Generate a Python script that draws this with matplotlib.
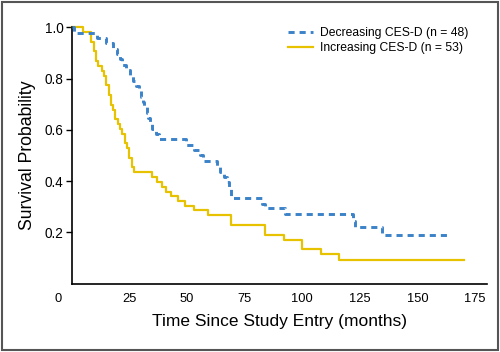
import matplotlib
matplotlib.use("Agg")
import matplotlib.pyplot as plt
import matplotlib.transforms as mtransforms
from matplotlib.patches import Rectangle

# Kaplan-Meier step data (months, survival probability)
dec_time = [0, 1, 11, 15, 18, 19.5, 21, 22, 23.5, 25.5, 26.5, 28, 29, 30, 30.8,
            31.5, 32.5, 33.2, 34, 35, 36.5, 38, 49.5, 53, 55.5, 57, 63, 64.5,
            66, 67.5, 68.2, 69, 82.5, 84, 92.5, 122, 123, 134.5, 164]
dec_surv = [1.0, 0.979, 0.958, 0.938, 0.917, 0.896, 0.875, 0.854, 0.833, 0.813,
            0.792, 0.771, 0.75, 0.729, 0.708, 0.688, 0.667, 0.646, 0.625, 0.604,
            0.583, 0.563, 0.542, 0.521, 0.500, 0.479, 0.458, 0.437, 0.417, 0.396,
            0.375, 0.333, 0.312, 0.294, 0.272, 0.245, 0.219, 0.19, 0.19]

inc_time = [0, 5, 8.5, 9.5, 10.5, 11.5, 13, 14, 15, 16, 17, 18, 19, 20, 21, 22,
            23, 24, 25, 26, 27, 35, 37, 39, 41, 43, 46, 49, 53, 59, 69, 84, 92,
            100, 108, 116, 170]
inc_surv = [1.0, 0.981, 0.943, 0.906, 0.868, 0.849, 0.830, 0.811, 0.774, 0.736,
            0.698, 0.679, 0.642, 0.623, 0.604, 0.585, 0.547, 0.528, 0.491, 0.453,
            0.434, 0.415, 0.396, 0.377, 0.358, 0.340, 0.321, 0.302, 0.288, 0.268,
            0.229, 0.19, 0.171, 0.135, 0.116, 0.093, 0.093]

x_ticks = [0, 25, 50, 75, 100, 125, 150, 175]
y_ticks = [0.2, 0.4, 0.6, 0.8, 1.0]
labels = ["Decreasing CES-D (n = 48)", "Increasing CES-D (n = 53)"]

plt.rcParams["font.family"] = ["Liberation Sans", "DejaVu Sans"]

fig = plt.figure(figsize=(5, 3.52), dpi=100)
ax = fig.add_axes([0.1434, 0.1946, 0.8298, 0.7278])

blue = "#3b82c9"
gold = "#e6c200"

ax.step(dec_time, dec_surv, where="post", color=blue, lw=2.1,
        linestyle=(0, (2.1, 1.7)), label=labels[0], clip_on=False, zorder=3)
ax.step(inc_time, inc_surv, where="post", color=gold, lw=1.6,
        label=labels[1], clip_on=False, zorder=2)

ax.set_xlim(0, 180)
ax.set_ylim(0, 1.0)
ax.set_xticks(x_ticks)
ax.set_yticks(y_ticks)
ax.set_yticklabels([f"{v:.1f}" for v in y_ticks])
ax.spines["top"].set_visible(False)
ax.spines["right"].set_visible(False)
for s in ("left", "bottom"):
    ax.spines[s].set_linewidth(1.2)
ax.tick_params(axis="x", length=0, pad=7, labelsize=9.3)
ax.tick_params(axis="y", length=4, width=1, pad=2, labelsize=9.8)

# the "0" label sits left of the axis corner
first = ax.get_xticklabels()[0]
first.set_transform(first.get_transform() +
                    mtransforms.ScaledTranslation(-14 / 100, 0, fig.dpi_scale_trans))

ax.set_xlabel("Time Since Study Entry (months)", fontsize=12.5, labelpad=6)
ax.set_ylabel("Survival Probability", fontsize=12.7, labelpad=6)

ax.legend(loc="upper left", bbox_to_anchor=(0.521, 1.0), frameon=False,
          fontsize=8.7, handlelength=2.1, handletextpad=0.6, labelspacing=0.25,
          borderpad=0, borderaxespad=0)

fig.patches.append(Rectangle((0.003, 0.005), 0.992, 0.99, transform=fig.transFigure,
                             fill=False, edgecolor="#555555", lw=1.5))

fig.savefig("out.png", dpi=100)
